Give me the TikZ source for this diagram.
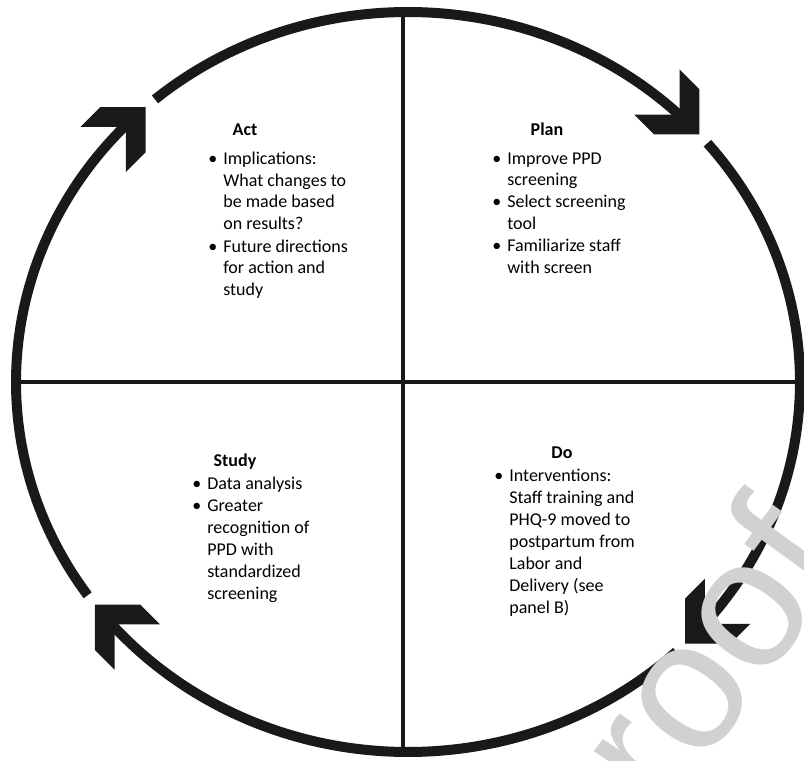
\documentclass[tikz,border=0pt]{standalone}
\usepackage{fontspec}
\setmainfont{Carlito}
\newfontfamily\markfont{Liberation Sans}
\usepackage{tikz}

\newcommand{\bul}{\makebox[9pt][l]{\textbullet}}
\newcommand{\ind}{\hspace*{9pt}}

\begin{document}
\begin{tikzpicture}[x=0.6pt, y=0.6pt,
  ring/.style={line width=6pt, black!90},
  cross/.style={line width=2.4pt, black!90},
  tip/.style={fill=black!90},
  head/.style={font=\fontsize{10.8}{13.2}\selectfont\bfseries, inner sep=0pt, anchor=base},
  list/.style={font=\fontsize{10.8}{13.2}\selectfont, align=left, inner sep=0pt, anchor=base west}
]
\useasboundingbox (-408,-378) rectangle (396,382);

% quadrants
\draw[cross] (-5,370) -- (-5,-370);
\draw[cross] (-392,0) -- (392,0);

% ring, cut into four arcs
\foreach \s/\e in {130.2/44.3, 40.2/-42.7, -46.8/-140.7, -144.8/-225.7}
  \draw[ring] (\s:392 and 370) arc[start angle=\s, end angle=\e, x radius=392, y radius=370];

% arrow heads
\foreach \a/\r in {132/45, 42/-45, -45/-135, -143/135}
  \fill[tip, shift={(\a:392 and 370)}, rotate=\r]
    (0,0) -- (-32,32) -- (-60,32) -- (-28,0) -- (-60,-32) -- (-32,-32) -- cycle;

% text blocks (lists sit on the baseline of their last line)
\node[head] (acthead) at (-163,246) {Act};
\node[list] (actlist) at (-200,86)
  {\bul Implications:\\ \ind What changes to\\ \ind be made based\\ \ind on results?\\
   \bul Future directions\\ \ind for action and\\ \ind study};

\node[head] (planhead) at (139,246) {Plan};
\node[list] (planlist) at (84,108)
  {\bul Improve PPD\\ \ind screening\\ \bul Select screening\\ \ind tool\\
   \bul Familiarize staff\\ \ind with screen};

\node[head] (studyhead) at (-173,-84) {Study};
\node[list] (studylist) at (-216,-217)
  {\bul Data analysis\\ \bul Greater\\ \ind recognition of\\ \ind PPD with\\
   \ind standardized\\ \ind screening};

\node[head] (dohead) at (154,-76) {Do};
\node[list] (dolist) at (86,-231)
  {\bul Interventions:\\ \ind Staff training and\\ \ind PHQ-9 moved to\\
   \ind postpartum from\\ \ind Labor and\\ \ind Delivery (see\\ \ind panel B)};

% watermark
\begin{scope}
  \clip (-408,-378) rectangle (396,382);
  \node[font=\markfont\fontsize{110}{110}\selectfont, text=black!18, rotate=54,
        anchor=base east, inner sep=0pt] (mark) at (444,-180) {Journal Pre-proof};
\end{scope}
\end{tikzpicture}
\end{document}
